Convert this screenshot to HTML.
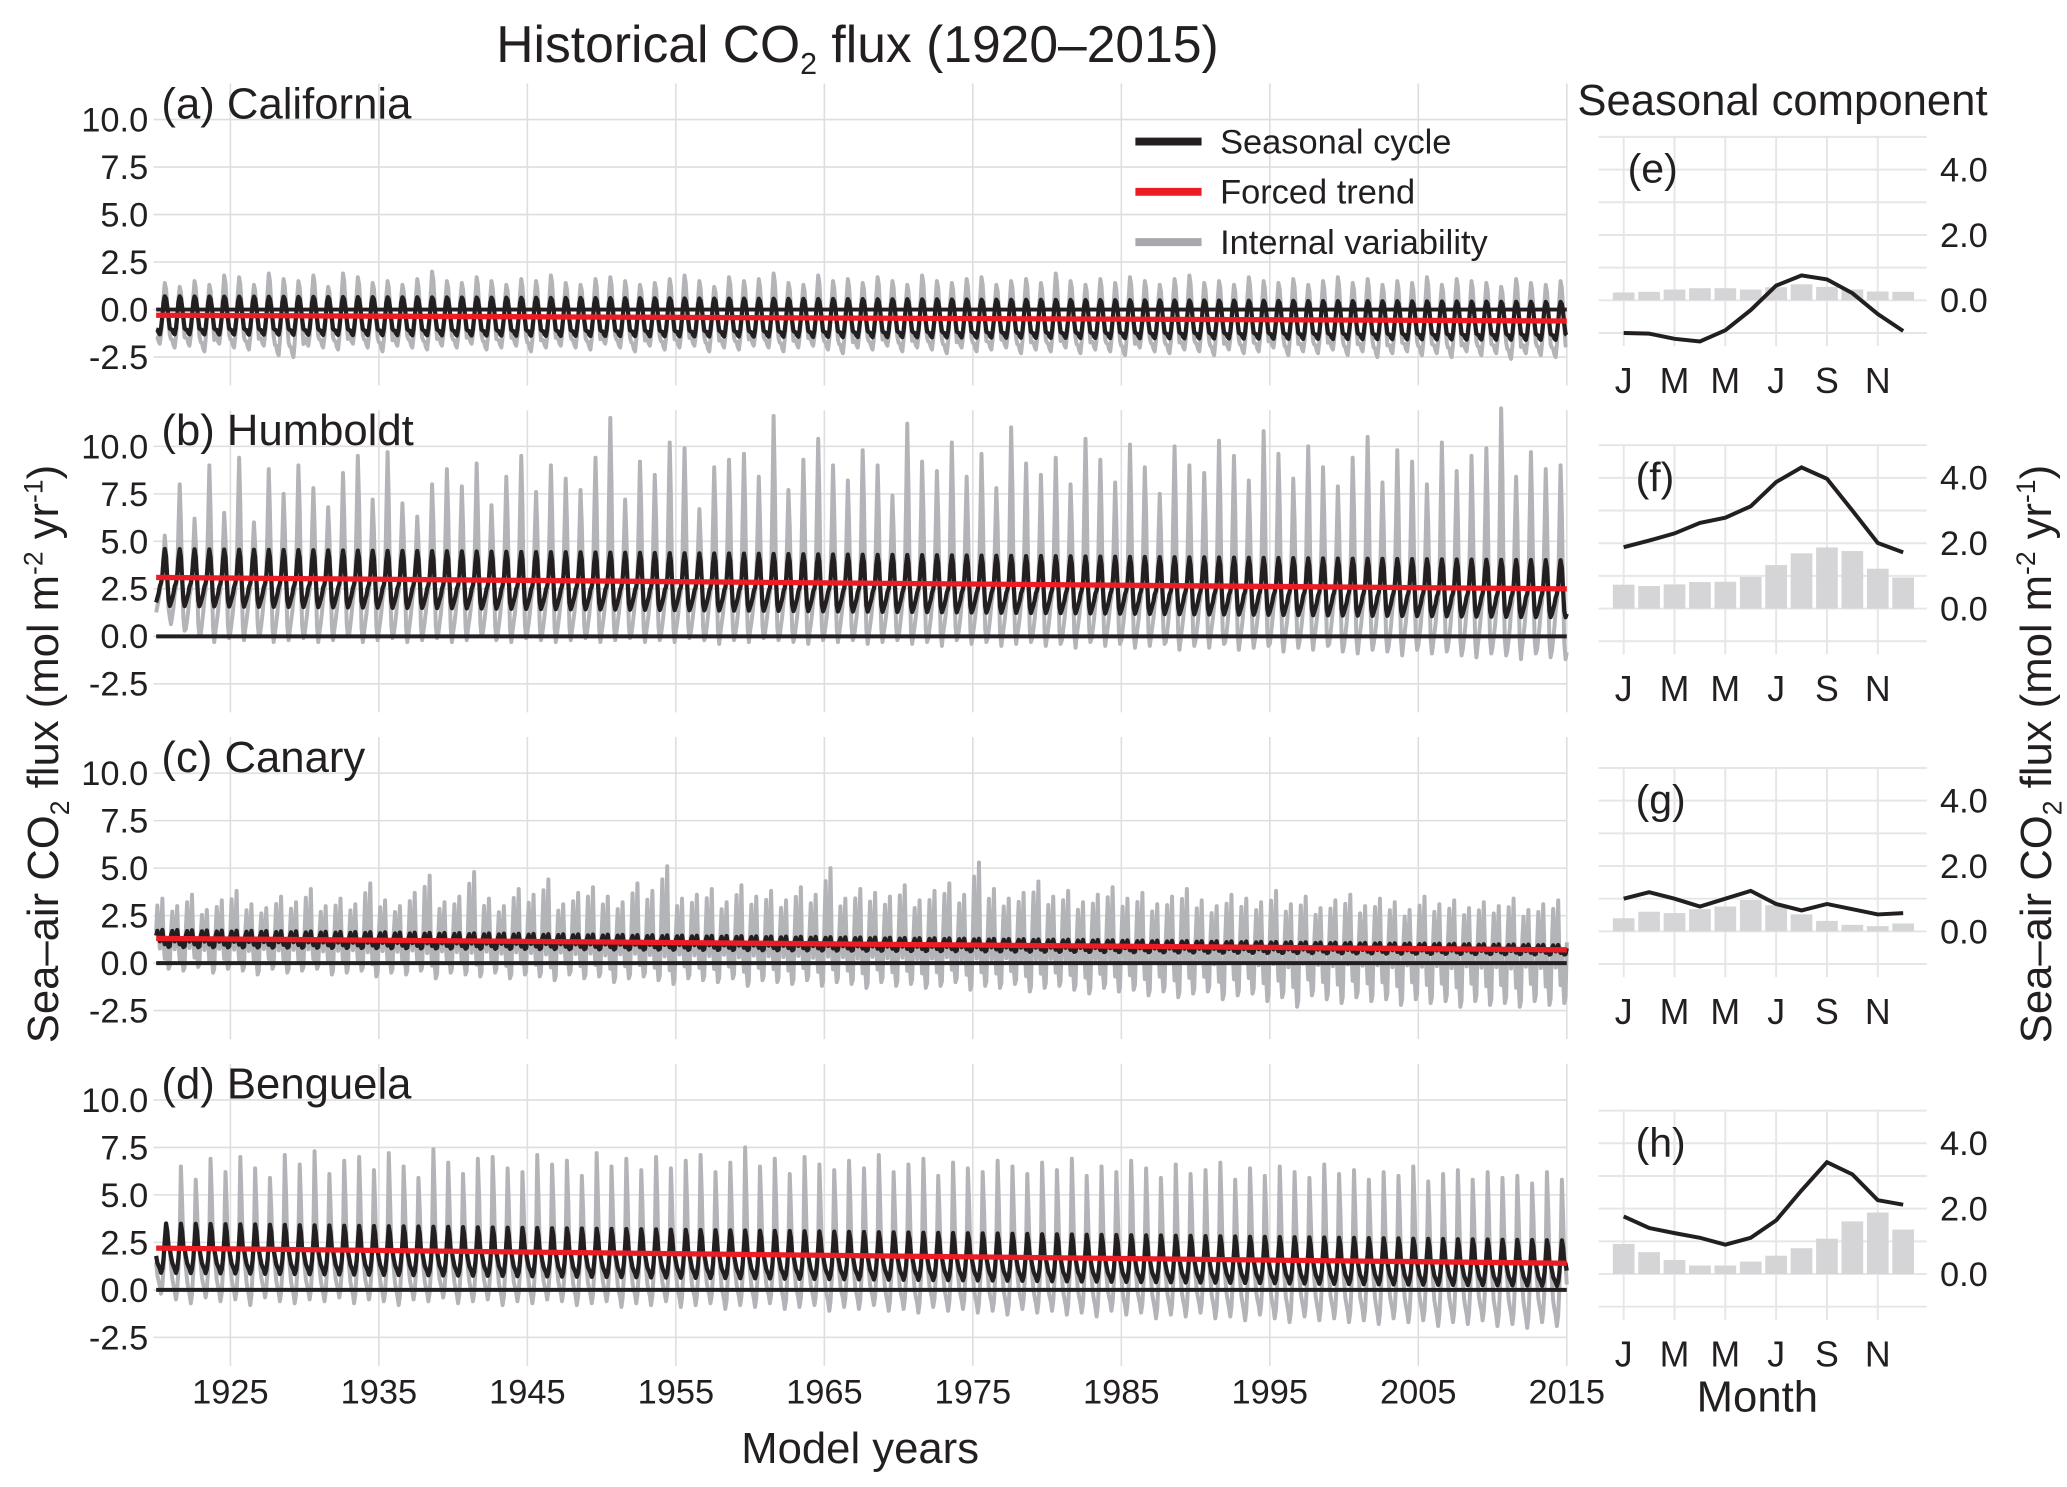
<!DOCTYPE html>
<html><head><meta charset="utf-8"><style>
html,body{margin:0;padding:0;background:#fff;}
svg{display:block;font-family:"Liberation Sans",sans-serif;}
</style></head><body>
<svg id="fig" width="2067" height="1487" viewBox="0 0 1562 1124" preserveAspectRatio="none" xmlns="http://www.w3.org/2000/svg">
<text x="648" y="47" font-size="39" text-anchor="middle" fill="#231f20">Historical CO<tspan font-size="23" dy="9">2</tspan><tspan dy="-9"> flux (1920–2015)</tspan></text>
<text x="1192" y="87" font-size="33" fill="#231f20">Seasonal component</text>
<text x="650" y="1106" font-size="33" text-anchor="middle" fill="#231f20">Model years</text>
<text x="1328" y="1067" font-size="33" text-anchor="middle" fill="#231f20">Month</text>
<text transform="translate(44,570) rotate(-90)" font-size="33" text-anchor="middle" fill="#231f20">Sea–air CO<tspan font-size="20" dy="8">2</tspan><tspan dy="-8"> flux (mol m</tspan><tspan font-size="20" dy="-12">-2</tspan><tspan dy="12"> yr</tspan><tspan font-size="20" dy="-12">-1</tspan><tspan dy="12">)</tspan></text>
<text transform="translate(1550,570) rotate(-90)" font-size="33" text-anchor="middle" fill="#231f20">Sea–air CO<tspan font-size="20" dy="8">2</tspan><tspan dy="-8"> flux (mol m</tspan><tspan font-size="20" dy="-12">-2</tspan><tspan dy="12"> yr</tspan><tspan font-size="20" dy="-12">-1</tspan><tspan dy="12">)</tspan></text>
<g id="main"></g>
</svg>
<script>
// ---- data ----
const panelNames = ["(a) California","(b) Humboldt","(c) Canary","(d) Benguela"];
const seasonNames = ["(e)","(f)","(g)","(h)"];
const yTicks = [10.0,7.5,5.0,2.5,0.0,-2.5];
const yearTicks = [1925,1935,1945,1955,1965,1975,1985,1995,2005,2015];
const monthTicks = ["J","M","M","J","S","N"];
const rTicks = [4.0,2.0,0.0];
const trendStart = [-0.3, 3.1, 1.3, 2.2];
const trendEnd = [-0.6, 2.5, 0.7, 1.4];
const blackAmp = [1.0, 1.5, 0.45, 1.3];
const blackAmpEnd = [1.0, 1.5, 0.25, 1.2];
const grayPeakA = [1.4,1.2,1.5,1.3,1.8,1.7,1.3,1.9,1.6,1.5,1.8,1.2,1.9,1.7,1.4,1.5,1.3,1.6,2.0,1.5,1.4,1.7,1.5,1.3,1.6,1.5,1.8,1.4,1.3,1.6,1.7,1.5,1.3,1.4,1.6,1.8,1.5,1.2,1.7,1.5,1.6,1.9,1.4,1.3,1.8,1.5,1.6,1.4,1.7,1.5,1.3,1.8,1.5,1.4,1.6,1.7,1.3,1.5,1.6,1.4,1.9,1.5,1.3,1.6,1.4,1.7,1.5,1.3,1.6,1.8,1.4,1.5,1.3,1.7,1.5,1.4,1.6,1.3,1.5,1.7,1.4,1.6,1.3,1.5,1.4,1.7,1.3,1.6,1.5,1.4,1.2,1.6,1.4,1.3,1.5,1.4];
const grayTroughA = [-1.8,-2.0,-1.9,-2.2,-1.8,-2.0,-2.1,-1.9,-2.4,-2.5,-1.9,-2.0,-2.1,-1.8,-2.0,-2.2,-1.9,-2.0,-2.1,-1.9,-2.0,-1.8,-2.1,-2.0,-1.9,-2.2,-2.0,-1.9,-2.0,-2.1,-1.8,-2.0,-2.2,-1.9,-2.1,-2.0,-1.9,-2.2,-2.0,-2.1,-1.9,-2.0,-2.2,-2.0,-1.9,-2.1,-2.3,-2.0,-2.1,-1.9,-2.2,-2.0,-2.1,-2.3,-2.0,-2.2,-2.1,-2.0,-2.3,-2.1,-2.2,-2.0,-2.3,-2.1,-2.2,-2.4,-2.0,-2.2,-2.3,-2.1,-2.2,-2.4,-2.1,-2.3,-2.2,-2.0,-2.4,-2.2,-2.3,-2.1,-2.4,-2.2,-2.5,-2.3,-2.2,-2.4,-2.3,-2.5,-2.2,-2.4,-2.3,-2.6,-2.3,-2.4,-2.5,-2.3];
const grayPeakB = [5.3,8.0,6.2,9.0,6.5,9.4,6.0,8.8,7.5,9.0,7.8,6.8,8.6,9.5,7.2,9.7,7.0,6.3,8.0,8.8,7.9,9.1,6.9,8.4,9.5,7.6,9.0,8.3,7.7,9.4,11.5,7.2,9.2,8.5,10.2,9.9,6.7,8.9,9.3,9.6,8.4,11.6,7.7,9.3,10.4,9.0,8.2,9.8,9.0,7.4,11.2,9.2,8.7,10.2,8.4,9.6,7.8,11.0,9.1,8.5,9.4,8.0,10.4,9.3,8.1,10.1,8.9,7.5,10.0,9.0,8.6,10.3,9.5,8.2,10.8,9.6,8.3,10.0,8.9,7.9,9.4,10.5,8.1,9.8,9.2,8.0,10.2,8.7,9.5,9.9,12.0,8.4,9.7,8.8,9.0,9.1];
const grayTroughB = [1.0,0.3,0.0,-0.3,-0.1,-0.2,0.0,-0.3,-0.2,-0.1,-0.3,-0.2,0.0,-0.3,-0.2,-0.1,-0.3,-0.2,-0.1,-0.3,-0.2,0.0,-0.2,-0.3,-0.1,-0.2,-0.3,-0.2,-0.1,-0.3,-0.2,-0.1,-0.3,-0.2,-0.3,-0.1,-0.2,-0.4,-0.2,-0.3,-0.1,-0.2,-0.3,-0.4,-0.2,-0.3,-0.2,-0.4,-0.3,-0.2,-0.4,-0.3,-0.5,-0.2,-0.4,-0.3,-0.5,-0.4,-0.3,-0.5,-0.4,-0.6,-0.3,-0.5,-0.4,-0.6,-0.5,-0.4,-0.7,-0.5,-0.6,-0.4,-0.7,-0.6,-0.5,-0.8,-0.6,-0.7,-0.5,-0.8,-0.9,-0.7,-0.8,-1.0,-0.7,-0.9,-0.8,-1.0,-1.1,-0.9,-1.0,-1.2,-0.9,-1.1,-1.2,-1.3];
const grayPeakC = [3.4,3.0,3.6,2.8,3.3,3.8,3.1,2.9,3.5,3.2,3.9,3.0,3.4,3.1,4.2,3.3,3.0,3.7,4.6,3.2,3.5,4.8,3.4,3.0,3.9,3.6,4.4,3.1,3.7,4.0,3.5,3.2,4.2,3.8,5.1,3.4,3.6,3.9,3.2,4.1,3.5,3.8,3.3,4.0,3.6,5.0,3.4,3.9,3.7,3.5,4.1,3.3,3.8,4.2,3.6,5.3,3.9,3.4,3.7,4.3,3.5,3.8,3.2,3.6,4.0,3.4,3.7,3.1,3.5,3.9,3.3,3.0,3.6,3.4,3.2,3.8,3.1,3.5,2.9,3.3,3.6,3.0,3.4,3.2,2.8,3.5,3.1,3.3,2.9,3.2,3.0,3.4,2.8,3.1,3.3,3.0];
const grayTroughC = [-0.3,-0.4,-0.2,-0.5,-0.3,-0.4,-0.6,-0.3,-0.5,-0.4,-0.3,-0.6,-0.5,-0.4,-0.7,-0.5,-0.6,-0.4,-0.8,-0.5,-0.6,-0.7,-0.5,-0.8,-0.6,-0.7,-0.9,-0.6,-0.8,-0.7,-1.0,-0.8,-0.7,-0.9,-1.1,-0.8,-0.9,-1.0,-0.8,-1.2,-0.9,-1.0,-1.1,-0.9,-1.2,-1.0,-1.1,-1.3,-1.0,-1.2,-1.1,-1.3,-1.2,-1.0,-1.4,-1.2,-1.3,-1.1,-1.5,-1.3,-1.2,-1.4,-1.6,-1.3,-1.5,-1.4,-1.7,-1.5,-1.8,-1.6,-1.5,-1.9,-1.7,-1.6,-2.0,-1.8,-2.3,-1.7,-1.9,-2.1,-1.8,-2.0,-1.9,-2.2,-1.9,-2.1,-2.0,-2.3,-2.0,-2.2,-2.1,-2.3,-2.0,-2.2,-2.1,-2.3];
const grayPeakD = [3.2,6.5,5.8,6.9,6.2,7.0,6.4,5.9,7.1,6.6,7.3,6.1,6.8,7.0,6.3,7.2,6.5,5.9,7.4,6.7,6.1,6.9,7.0,6.4,6.2,7.1,6.6,6.8,6.0,7.2,6.5,6.9,6.3,7.0,6.4,6.8,7.1,6.2,6.7,7.5,6.5,6.9,6.1,7.0,6.6,6.3,6.8,6.4,7.1,6.2,6.6,6.9,6.0,6.7,6.4,6.2,6.8,6.5,6.1,6.7,6.3,6.9,6.0,6.5,6.2,6.8,6.4,5.9,6.6,6.1,6.3,6.7,5.8,6.4,6.0,6.5,6.2,5.9,6.6,6.1,6.3,5.8,6.2,6.0,6.5,5.7,6.1,6.3,5.8,6.2,5.9,6.0,5.6,6.2,5.8,5.5];
const grayTroughD = [-0.2,-0.5,-0.7,-0.4,-0.6,-0.5,-0.8,-0.4,-0.6,-0.7,-0.5,-0.6,-0.4,-0.7,-0.5,-0.6,-0.8,-0.5,-0.6,-0.4,-0.7,-0.6,-0.5,-0.8,-0.6,-0.7,-0.5,-0.6,-0.8,-0.7,-0.6,-0.9,-0.7,-0.8,-0.6,-0.9,-0.8,-0.7,-1.0,-0.8,-0.9,-0.7,-1.0,-0.9,-0.8,-1.1,-0.9,-1.0,-0.8,-1.1,-1.0,-1.2,-0.9,-1.1,-1.0,-1.2,-1.1,-1.3,-1.0,-1.2,-1.1,-1.3,-1.2,-1.4,-1.1,-1.3,-1.2,-1.5,-1.3,-1.4,-1.2,-1.5,-1.4,-1.6,-1.3,-1.5,-1.7,-1.4,-1.6,-1.5,-1.7,-1.6,-1.8,-1.5,-1.7,-1.6,-1.9,-1.7,-1.8,-1.6,-1.9,-1.8,-2.0,-1.7,-1.9,-2.1];
const grayPeaks = [grayPeakA, grayPeakB, grayPeakC, grayPeakD];
const grayTroughs = [grayTroughA, grayTroughB, grayTroughC, grayTroughD];
// seasonal panels (monthly, J..D)
const seasonLineE = [-1.0,-1.02,-1.18,-1.26,-0.92,-0.3,0.45,0.76,0.64,0.22,-0.42,-0.94];
const seasonBarsE = [0.24,0.26,0.33,0.37,0.37,0.33,0.4,0.49,0.41,0.33,0.27,0.26];
const seasonLineF = [1.88,2.08,2.3,2.62,2.78,3.13,3.87,4.32,3.97,3.0,2.01,1.72];
const seasonBarsF = [0.73,0.69,0.74,0.81,0.82,0.97,1.33,1.69,1.87,1.76,1.22,0.95];
const seasonLineG = [1.0,1.2,1.0,0.76,1.0,1.24,0.84,0.64,0.84,0.68,0.52,0.56];
const seasonBarsG = [0.4,0.6,0.56,0.68,0.76,0.96,0.8,0.52,0.32,0.2,0.16,0.24];
const seasonLineH = [1.76,1.41,1.25,1.11,0.9,1.11,1.64,2.56,3.42,3.05,2.26,2.12];
const seasonBarsH = [0.92,0.67,0.43,0.26,0.26,0.38,0.56,0.79,1.08,1.61,1.88,1.36];
const seasonLines = [seasonLineE, seasonLineF, seasonLineG, seasonLineH];
const seasonBars = [seasonBarsE, seasonBarsF, seasonBarsG, seasonBarsH];

// ---- layout ----
const NS = "http://www.w3.org/2000/svg";
const main = document.getElementById("main");
const X0 = 118, X1 = 1184, YR0 = 1920, YR1 = 2015;
const xYear = t => X0 + (t - YR0) / (YR1 - YR0) * (X1 - X0);
const PPU = 14.36;
const zeroL = k => 234 + k * 247;
const yL = (k, v) => zeroL(k) - v * PPU;
const RX0 = 1208, RX1 = 1456, RPPU = 24.7;
const zeroR = [227, 460, 704, 963];
const xMonth = m => 1227 + m * 19.2;
const yR = (k, v) => zeroR[k] - v * RPPU;

function el(tag, attrs, parent) {
  const e = document.createElementNS(NS, tag);
  for (const a in attrs) e.setAttribute(a, attrs[a]);
  (parent || main).appendChild(e);
  return e;
}
function norm(arr) {
  const mx = Math.max(...arr), mn = Math.min(...arr);
  return arr.map(v => 2 * (v - mn) / (mx - mn) - 1);
}

for (let k = 0; k < 4; k++) {
  const g = el("g", {});
  
  
  const top = yL(k, 11.9), bot = yL(k, -4.0);
  yTicks.forEach(v => {
    const ln = el("line", {x1: X0 - 2, x2: X1, y1: yL(k, v), y2: yL(k, v), stroke: "#dedede", "stroke-width": 1.2}, g);
    
    
    const t = el("text", {x: 112, y: yL(k, v) + 9, "font-size": 26, "text-anchor": "end", fill: "#231f20"}, g);
    t.textContent = v.toFixed(1);
    
    
  });
  yearTicks.forEach(yr => {
    const ln = el("line", {x1: xYear(yr), x2: xYear(yr), y1: top, y2: bot, stroke: "#dedede", "stroke-width": 1.2}, g);
    
    
  });
  const shape = norm(seasonLines[k]);
  let gp = [], bp = [];
  const N = (YR1 - YR0) * 12;
  for (let i = 0; i <= N; i++) {
    const yi = Math.min(95, Math.floor(i / 12)), m = i % 12;
    const t = YR0 + i / 12;
    const f = (t - YR0) / (YR1 - YR0);
    const tr = trendStart[k] + (trendEnd[k] - trendStart[k]) * f;
    const s = shape[m];
    const amp = blackAmp[k] + (blackAmpEnd[k] - blackAmp[k]) * f;
    const bv = tr + amp * s;
    const gv = s > 0 ? tr + Math.pow(s, 1.6) * (grayPeaks[k][yi] - tr) : tr - (-s) * (tr - grayTroughs[k][yi]);
    gp.push(xYear(t).toFixed(1) + "," + yL(k, gv).toFixed(1));
    bp.push(xYear(t).toFixed(1) + "," + yL(k, bv).toFixed(1));
  }
  const gl = el("polyline", {points: gp.join(" "), fill: "none", stroke: "#b3b4b8", "stroke-width": 3, "stroke-linejoin": "round"}, g);
  
  
  const bl = el("polyline", {points: bp.join(" "), fill: "none", stroke: "#231f20", "stroke-width": 3.2, "stroke-linejoin": "round"}, g);
  
  
  const z = el("line", {x1: X0, x2: X1, y1: yL(k, 0), y2: yL(k, 0), stroke: "#231f20", "stroke-width": 3}, g);
  
  
  const tl = el("line", {x1: X0, x2: X1, y1: yL(k, trendStart[k]), y2: yL(k, trendEnd[k]), stroke: "#ec1c24", "stroke-width": 4}, g);
  
  
  const lab = el("text", {x: 122, y: yL(k, 10) - 1, "font-size": 33, fill: "#231f20"}, g);
  lab.textContent = panelNames[k];
  
  

  const sg = el("g", {});
  
  
  for (let v = -1; v <= 5; v++) {
    const ln = el("line", {x1: RX0, x2: RX1, y1: yR(k, v), y2: yR(k, v), stroke: "#e6e6e6", "stroke-width": 1.5}, sg);
    
    
  }
  for (let j = 0; j < 6; j++) {
    const ln = el("line", {x1: xMonth(2 * j), x2: xMonth(2 * j), y1: yR(k, 5), y2: yR(k, -1.4), stroke: "#e6e6e6", "stroke-width": 1.5}, sg);
    
    
    const t = el("text", {x: xMonth(2 * j), y: zeroR[k] + 70, "font-size": 27, "text-anchor": "middle", fill: "#231f20"}, sg);
    t.textContent = monthTicks[j];
    
    
  }
  rTicks.forEach(v => {
    const t = el("text", {x: 1466, y: yR(k, v) + 9, "font-size": 26, fill: "#231f20"}, sg);
    t.textContent = v.toFixed(1);
    
    
  });
  seasonBars[k].forEach((v, m) => {
    const r = el("rect", {x: xMonth(m) - 8.2, y: yR(k, v), width: 16.4, height: v * RPPU, fill: "#d5d5d7"}, sg);
    
    
  });
  const sp = seasonLines[k].map((v, m) => xMonth(m).toFixed(1) + "," + yR(k, v).toFixed(1)).join(" ");
  const sl = el("polyline", {points: sp, fill: "none", stroke: "#231f20", "stroke-width": 3}, sg);
  
  
  const sl2 = el("text", {x: k === 0 ? 1230 : 1236, y: zeroR[k] - 89, "font-size": 31, fill: "#231f20"}, sg);
  sl2.textContent = seasonNames[k];
  
  
}
yearTicks.forEach(yr => {
  const t = el("text", {x: xYear(yr), y: 1061, "font-size": 26, "text-anchor": "middle", fill: "#231f20"});
  t.textContent = yr;
  
  
});
const legendLabels = ["Seasonal cycle", "Forced trend", "Internal variability"];
const legendColors = ["#231f20", "#ec1c24", "#a7a9ac"];
const lg = el("g", {});


legendLabels.forEach((lbl, i) => {
  const y = 107 + i * 38;
  const ln = el("line", {x1: 858, x2: 908, y1: y, y2: y, stroke: legendColors[i], "stroke-width": 6}, lg);
  
  
  const t = el("text", {x: 922, y: y + 9, "font-size": 26, fill: "#231f20"}, lg);
  t.textContent = lbl;
  
  
});
</script>
</body></html>
